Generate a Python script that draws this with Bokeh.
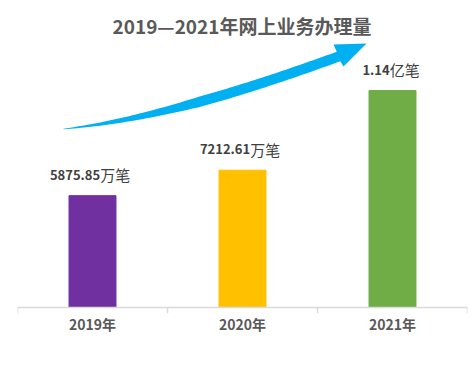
import numpy as np
from bokeh.plotting import figure
from bokeh.models import (FactorRange, Range1d, CategoricalAxis, Label,
                          ColumnDataSource, Span)
from bokeh.core.properties import value
from bokeh.embed import file_html
from bokeh.resources import INLINE

# ---- data ----
years = ["2019年", "2020年", "2021年"]
volumes = [5875.85, 7212.61, 11400.0]          # 万笔
value_text = ["5875.85", "7212.61", "1.14"]
unit_text = ["万笔", "万笔", "亿笔"]
colors = ["#7030a0", "#ffc000", "#70ad47"]
title_text = "2019—2021年网上业务办理量"

CJK = "Noto Sans CJK SC"

# ---- layout (page pixels) ----
W, H = 476, 368
FL, FR, FT, FB = 17, 9, 0, 55          # frame: x 17..467, y 0..313
AXIS_Y = 307                            # page y of value 0
frame_w = W - FL - FR
px_per_unit = 217 / 11400.0
y_start = -(H - FB - AXIS_Y) / px_per_unit
y_end = AXIS_Y / px_per_unit

p = figure(width=W, height=H,
           x_range=FactorRange(*years), y_range=Range1d(y_start, y_end),
           output_backend="svg", toolbar_location=None,
           x_axis_location=None, y_axis_location=None,
           min_border_left=FL, min_border_right=FR,
           min_border_top=FT, min_border_bottom=FB,
           outline_line_color=None, background_fill_color="white")
p.grid.visible = False

# base line and category separators
p.add_layout(Span(location=0, dimension="width", line_color="#d9d9d9", line_width=1.5))
sep_x = list(range(len(years) + 1))
p.segment(x0=sep_x, y0=[0] * len(sep_x), x1=sep_x, y1=[y_start] * len(sep_x),
          line_color="#d9d9d9", line_width=1.5)

cat_axis = CategoricalAxis(axis_line_color=None, major_tick_line_color=None,
                           major_tick_out=0, major_tick_in=0,
                           major_label_text_font=CJK,
                           major_label_text_font_size="14px",
                           major_label_text_font_style="bold",
                           major_label_text_color="#595959",
                           major_label_standoff=0)
p.add_layout(cat_axis, "below")

# ---- bars ----
w_num = [sum(3.3 if c == "." else 7.0 for c in s) for s in value_text]
w_unit = [15.0 * len(u) for u in unit_text]
split = [(a - b) / 2 for a, b in zip(w_num, w_unit)]
src = ColumnDataSource(dict(x=years, top=volumes, num=value_text, unit=unit_text,
                            color=colors, split=split))
p.vbar(x="x", top="top", width=0.313, color="color", source=src)

p.text(x="x", y="top", text="num", x_offset="split", y_offset=-21,
       text_align="right", text_baseline="alphabetic",
       text_font=value(CJK), text_font_style="bold", text_font_size="13px",
       text_color="#404040", source=src)
p.text(x="x", y="top", text="unit", x_offset="split", y_offset=-21,
       text_align="left", text_baseline="alphabetic",
       text_font=value(CJK), text_font_size="15px",
       text_color="#404040", source=src)

# ---- decorative arrow (pixel geometry -> synthetic data space) ----
def to_data(px, py):
    return (np.asarray(px) - FL) / (frame_w / 3.0), (AXIS_Y - np.asarray(py)) / px_per_unit

P0, P1, P2, P3 = map(np.array, [(63, 128.5), (153, 119), (250, 88), (338, 56)])
t = np.linspace(0, 1, 80)[:, None]
B = (1 - t) ** 3 * P0 + 3 * (1 - t) ** 2 * t * P1 + 3 * (1 - t) * t ** 2 * P2 + t ** 3 * P3
D = 3 * (1 - t) ** 2 * (P1 - P0) + 6 * (1 - t) * t * (P2 - P1) + 3 * t ** 2 * (P3 - P2)
D = D / np.linalg.norm(D, axis=1)[:, None]
N = np.column_stack([-D[:, 1], D[:, 0]])
w = 0.6 + 9.6 * np.minimum(1.0, t[:, 0] / 0.5)
upper = B - N * (w[:, None] / 2)
lower = B + N * (w[:, None] / 2)
head = np.array([(343, 66), (366, 43), (333, 44)])
poly = np.vstack([lower, head, upper[::-1]])
ax_, ay_ = to_data(poly[:, 0], poly[:, 1])
p.patch(list(map(float, ax_)), list(map(float, ay_)), fill_color="#00b0f0", line_color=None)

# ---- title ----
tx, ty = to_data(241.5, 25)
p.add_layout(Label(x=float(tx), y=float(ty), text=title_text,
                   text_align="center", text_baseline="alphabetic",
                   text_font=CJK, text_font_size="19px", text_font_style="bold",
                   text_color="#595959"))

open("out.html", "w").write(file_html(p, INLINE))
